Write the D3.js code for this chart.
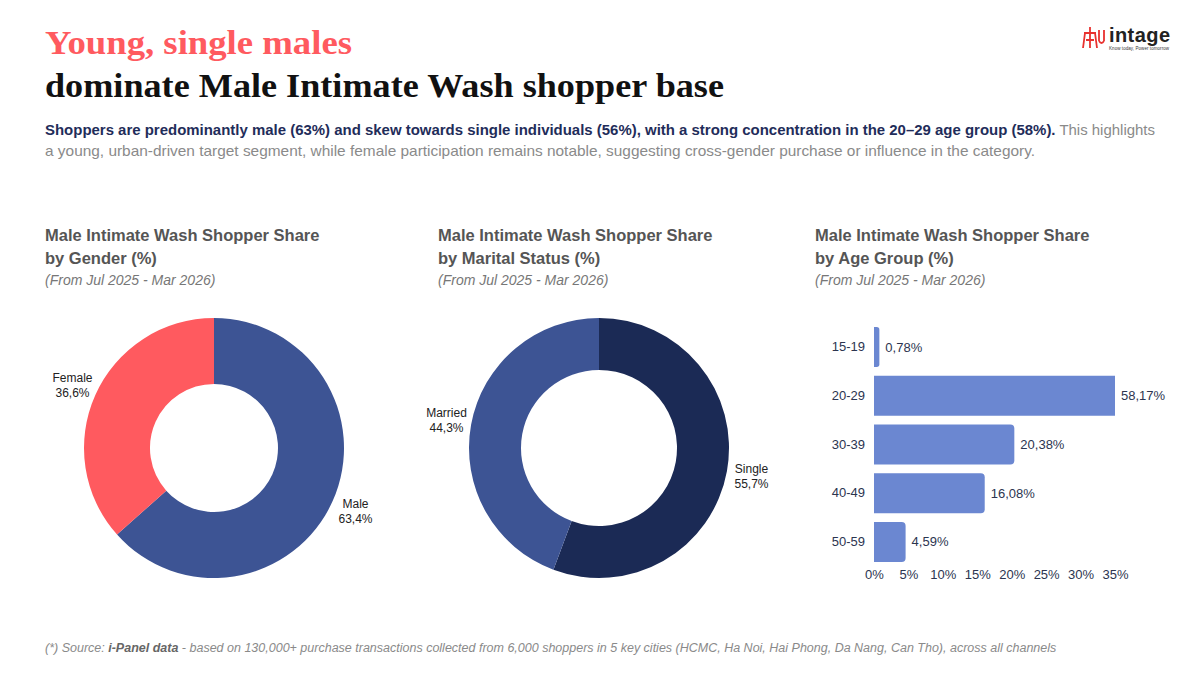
<!DOCTYPE html>
<meta charset="utf-8">
<head>
  <title>Male Intimate Wash shopper base</title>
  <style>
    body { margin: 0; background: #fff; font-family: "Liberation Sans", Arial, sans-serif; }
  </style>
</head>
<body>
  <script src="https://cdn.jsdelivr.net/npm/d3@7/dist/d3.min.js"></script>
  <div id="chart"></div>
  <script>
    // data
    var genderLabels = ['Male', 'Female'];
    var genderValues = [63.4, 36.6];
    var maritalLabels = ['Single', 'Married'];
    var maritalValues = [55.7, 44.3];
    var ageGroups = ['15-19', '20-29', '30-39', '40-49', '50-59'];
    var ageValues = [0.78, 58.17, 20.38, 16.08, 4.59];
    var ageTicks = [0, 5, 10, 15, 20, 25, 30, 35];

    var width = 1200, height = 675;
    var vn = d3.formatLocale({ decimal: ',', thousands: '.', grouping: [3], currency: ['', ''] });

    var svg = d3.select('#chart').append('svg')
      .attr('width', width)
      .attr('height', height);

    // headline
    svg.append('text').attr('x', 45).attr('y', 54)
      .attr('font-family', '"Liberation Serif", serif').attr('font-weight', 'bold')
      .attr('font-size', 34).attr('fill', '#ff5a5f')
      .attr('textLength', 307).attr('lengthAdjust', 'spacingAndGlyphs')
      .text('Young, single males');
    svg.append('text').attr('x', 45).attr('y', 97)
      .attr('font-family', '"Liberation Serif", serif').attr('font-weight', 'bold')
      .attr('font-size', 34).attr('fill', '#111')
      .attr('textLength', 679).attr('lengthAdjust', 'spacingAndGlyphs')
      .text('dominate Male Intimate Wash shopper base');

    var sub = svg.append('text').attr('x', 45).attr('y', 135).attr('font-size', 15)
      .attr('textLength', 1110).attr('lengthAdjust', 'spacingAndGlyphs');
    sub.append('tspan').attr('font-weight', 'bold').attr('fill', '#1f2d5a')
      .text('Shoppers are predominantly male (63%) and skew towards single individuals (56%), with a strong concentration in the 20\u201329 age group (58%).');
    sub.append('tspan').attr('fill', '#8a8a8a').text(' This highlights');
    svg.append('text').attr('x', 45).attr('y', 156).attr('font-size', 15).attr('fill', '#8a8a8a')
      .attr('textLength', 990).attr('lengthAdjust', 'spacingAndGlyphs')
      .text('a young, urban-driven target segment, while female participation remains notable, suggesting cross-gender purchase or influence in the category.');

    // logo
    var logo = svg.append('g').attr('transform', 'translate(1083,27)');
    logo.append('path')
      .attr('d', 'M7,0 L7,21 M1,6 L13,6 M2,6 L0,21 M12,6 L14,21 M3,13 L11,13 M16,3 L16,14 M21,3 L21,14 M16,14 Q18.5,18 21,14')
      .attr('fill', 'none').attr('stroke', '#e8312f').attr('stroke-width', 1.8);
    logo.append('text').attr('x', 26).attr('y', 15).attr('font-size', 20)
      .attr('font-weight', 'bold').attr('fill', '#222')
      .attr('textLength', 61).text('intage');
    logo.append('text').attr('x', 26).attr('y', 23).attr('font-size', 4.5)
      .attr('fill', '#333').attr('textLength', 60).text('Know today, Power tomorrow');

    function chartTitle(x, line2) {
      svg.append('text').attr('x', x).attr('y', 241).attr('font-size', 16.5)
        .attr('font-weight', 'bold').attr('fill', '#555').text('Male Intimate Wash Shopper Share');
      svg.append('text').attr('x', x).attr('y', 264).attr('font-size', 16.5)
        .attr('font-weight', 'bold').attr('fill', '#555').text(line2);
      svg.append('text').attr('x', x).attr('y', 285).attr('font-size', 14)
        .attr('font-style', 'italic').attr('fill', '#777').text('(From Jul 2025 - Mar 2026)');
    }
    chartTitle(45, 'by Gender (%)');
    chartTitle(438, 'by Marital Status (%)');
    chartTitle(815, 'by Age Group (%)');

    function donut(cx, cy, inner, labels, values, colors) {
      var data = labels.map(function(l, i) { return { label: l, value: values[i] }; });
      var pie = d3.pie().value(function(d) { return d.value; }).sort(null);
      var arc = d3.arc().innerRadius(inner).outerRadius(130);
      var labelArc = d3.arc().innerRadius(155).outerRadius(155);
      var g = svg.append('g').attr('transform', 'translate(' + cx + ',' + cy + ')');
      g.selectAll('path').data(pie(data)).enter().append('path')
        .attr('d', arc)
        .attr('fill', function(d, i) { return colors[i]; });
      var lab = g.selectAll('text').data(pie(data)).enter().append('text')
        .attr('text-anchor', 'middle').attr('font-size', 12).attr('fill', '#222')
        .attr('transform', function(d) { return 'translate(' + labelArc.centroid(d) + ')'; });
      lab.append('tspan').attr('x', 0).attr('y', -3).text(function(d) { return d.data.label; });
      lab.append('tspan').attr('x', 0).attr('y', 12)
        .text(function(d) { return vn.format('.1f')(d.data.value) + '%'; });
    }
    donut(214, 448, 64, genderLabels, genderValues, ['#3d5494', '#ff5a5f']);
    donut(599, 448, 78, maritalLabels, maritalValues, ['#1b2a55', '#3d5494']);

    // age bars (axis stops at 35%, longest bar is cut at the edge)
    var x = d3.scaleLinear().domain([0, 35]).range([874, 1115]).clamp(true);
    var y = d3.scaleBand().domain(ageGroups).range([318.25, 570.75]).padding(0.18);
    var bars = svg.append('g');
    bars.selectAll('path').data(ageValues).enter().append('path')
      .attr('fill', '#6b87d1')
      .attr('d', function(d, i) {
        var x0 = x(0), x1 = x(d), y0 = y(ageGroups[i]), h = y.bandwidth();
        var r = Math.min(4, (x1 - x0) / 2);
        if (d > 35) r = 0;
        return 'M' + x0 + ',' + y0 + 'H' + (x1 - r) + 'Q' + x1 + ',' + y0 + ' ' + x1 + ',' + (y0 + r) +
          'V' + (y0 + h - r) + 'Q' + x1 + ',' + (y0 + h) + ' ' + (x1 - r) + ',' + (y0 + h) + 'H' + x0 + 'Z';
      });
    bars.selectAll('text.val').data(ageValues).enter().append('text')
      .attr('class', 'val')
      .attr('x', function(d) { return x(d) + 6; })
      .attr('y', function(d, i) { return y(ageGroups[i]) + y.bandwidth() / 2 + 4.5; })
      .attr('font-size', 13).attr('fill', '#2c3550')
      .text(function(d) { return vn.format('.2f')(d) + '%'; });

    var yAxis = svg.append('g').attr('transform', 'translate(874,0)')
      .call(d3.axisLeft(y).tickSize(0).tickPadding(9));
    yAxis.select('.domain').remove();
    yAxis.selectAll('text').attr('font-size', 13).attr('fill', '#2c3550')
      .attr('font-family', '"Liberation Sans", Arial, sans-serif');

    var xAxis = svg.append('g').attr('transform', 'translate(0,562)')
      .call(d3.axisBottom(x).tickValues(ageTicks).tickSize(0).tickPadding(8)
        .tickFormat(function(d) { return d + '%'; }));
    xAxis.select('.domain').remove();
    xAxis.selectAll('text').attr('font-size', 13).attr('fill', '#2c3550')
      .attr('font-family', '"Liberation Sans", Arial, sans-serif');

    // footnote
    var foot = svg.append('text').attr('x', 45).attr('y', 652).attr('font-size', 12.5)
      .attr('font-style', 'italic').attr('fill', '#8a8a8a');
    foot.append('tspan').text('(*) Source: ');
    foot.append('tspan').attr('font-weight', 'bold').attr('fill', '#666').text('i-Panel data');
    foot.append('tspan').text(' - based on 130,000+ purchase transactions collected from 6,000 shoppers in 5 key cities (HCMC, Ha Noi, Hai Phong, Da Nang, Can Tho), across all channels');
  </script>
</body>
